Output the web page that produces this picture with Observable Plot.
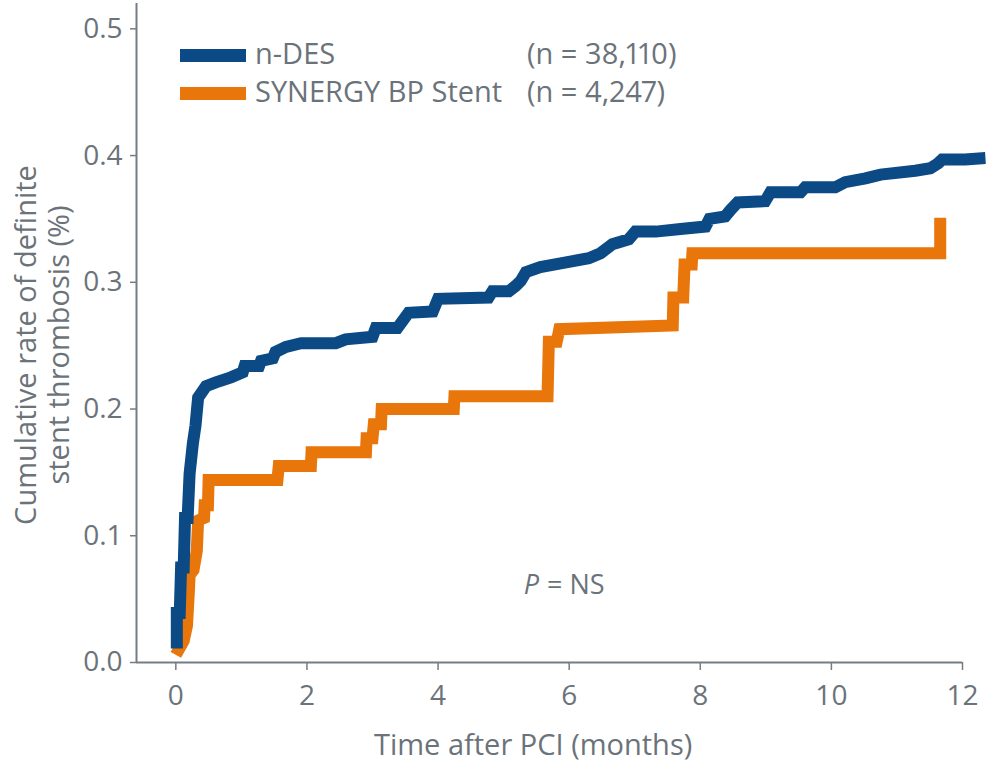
<!DOCTYPE html>
<html><head><meta charset="utf-8">
<script src="https://cdn.jsdelivr.net/npm/d3@7"></script>
<script src="https://cdn.jsdelivr.net/npm/@observablehq/plot@0.6"></script>
<style>
body{margin:0;background:#fff;}
#wrap{position:relative;width:1000px;height:765px;font-family:"Open Sans",sans-serif;color:#6b737a;font-variant-numeric:proportional-nums;font-feature-settings:"pnum" 1;}
#wrap svg{font-variant-numeric:proportional-nums;font-feature-settings:"pnum" 1;}
.sw{position:absolute;height:13px;width:66px;}
.lt{position:absolute;font-size:29px;line-height:29px;white-space:nowrap;}
</style></head><body><div id="wrap"></div>
<script>
// n-DES (months, cumulative %)
const ndesT = [0.015,0.015,0.06,0.08,0.12,0.14,0.18,0.21,0.26,0.30,0.34,0.46,0.61,0.84,1.02,1.05,1.27,1.30,1.48,1.52,1.68,1.91,2.44,2.59,3.00,3.05,3.38,3.55,3.92,4.00,4.77,4.83,5.08,5.18,5.26,5.34,5.56,5.87,6.30,6.48,6.66,6.91,7.01,7.32,7.70,8.08,8.14,8.38,8.46,8.57,8.99,9.07,9.53,9.60,10.06,10.21,10.52,10.75,11.28,11.51,11.63,11.69,12.04,12.35];
const ndesV = [0.011,0.039,0.039,0.075,0.075,0.114,0.114,0.149,0.173,0.187,0.209,0.218,0.221,0.225,0.229,0.234,0.234,0.238,0.240,0.245,0.249,0.252,0.252,0.255,0.257,0.264,0.264,0.276,0.277,0.287,0.288,0.293,0.293,0.297,0.301,0.308,0.312,0.315,0.319,0.323,0.330,0.334,0.340,0.340,0.342,0.344,0.350,0.352,0.357,0.363,0.364,0.371,0.371,0.375,0.375,0.379,0.382,0.385,0.388,0.390,0.394,0.397,0.397,0.398];
// SYNERGY BP Stent
const synT = [0,0.12,0.17,0.20,0.21,0.27,0.32,0.34,0.43,0.44,0.49,0.50,1.55,1.57,2.06,2.07,2.90,2.91,3.00,3.02,3.13,3.14,4.24,4.25,5.67,5.69,5.81,5.85,7.58,7.59,7.74,7.76,7.87,7.88,11.66,11.66];
const synV = [0.006,0.017,0.029,0.057,0.069,0.073,0.088,0.112,0.114,0.124,0.124,0.144,0.144,0.155,0.155,0.166,0.166,0.177,0.177,0.188,0.188,0.200,0.200,0.210,0.210,0.253,0.253,0.263,0.266,0.288,0.288,0.314,0.314,0.323,0.323,0.351];

const seriesNames = ["n-DES","SYNERGY BP Stent"];
const seriesN = ["(n = 38,110)","(n = 4,247)"];
const seriesColors = ["#0b4a85","#e8760a"];
const xTicks = [0,2,4,6,8,10,12];
const yTicks = [0,0.1,0.2,0.3,0.4,0.5];
const xDomain = [-0.6,12];
const yDomain = [0,0.52];
const xTitle = "Time after PCI (months)";
const yTitle = "Cumulative rate of definite\nstent thrombosis (%)";
const pLabel = ["P","= NS"];
const pPos = {t:5.6, v:0.061};
const xTitlePos = 5.45;

const textColor = "#6b737a";
const axisColor = "#767c83";

const ndes = ndesT.map((t,i)=>({t, v:ndesV[i]}));
const syn = synT.map((t,i)=>({t, v:synV[i]}));

const lineOpts = {x:"t", y:"v", strokeWidth:12, strokeLinejoin:"miter", strokeLinecap:"butt", strokeMiterlimit:4};

const plot = Plot.plot({
  width:1000, height:765,
  marginLeft:136, marginRight:38, marginTop:3, marginBottom:103,
  x:{domain:xDomain},
  y:{domain:yDomain},
  style:{fontFamily:"'Open Sans', sans-serif", fontSize:"28px", color:textColor, background:"transparent"},
  marks:[
    Plot.ruleX([xDomain[0]], {stroke:axisColor, strokeWidth:2}),
    Plot.ruleY([0], {stroke:axisColor, strokeWidth:2}),
    Plot.axisY({ticks:yTicks, tickFormat:d=>d.toFixed(1), tickSize:6, tickPadding:8, label:null, stroke:axisColor, fill:textColor, strokeWidth:1.5}),
    Plot.axisX({ticks:xTicks, tickFormat:d=>String(d), tickSize:8, tickPadding:15, label:null, stroke:axisColor, fill:textColor, strokeWidth:1.5}),
    Plot.line(syn, {...lineOpts, stroke:seriesColors[1]}),
    Plot.line(ndes, {...lineOpts, stroke:seriesColors[0]}),
    Plot.text([xTitle], {x:xTitlePos, frameAnchor:"bottom", dy:83, text:d=>d, fill:textColor, lineAnchor:"middle", fontSize:29}),
    Plot.text([yTitle], {frameAnchor:"left", textAnchor:"middle", rotate:-90, dx:-95, dy:12, text:d=>d, fill:textColor, lineHeight:1.15, fontSize:29}),
    Plot.text([pLabel[0]], {x:pPos.t, y:pPos.v, text:d=>d, textAnchor:"end", dx:-4, fontStyle:"italic", fill:textColor, fontSize:27}),
    Plot.text([pLabel[1]], {x:pPos.t, y:pPos.v, text:d=>d, textAnchor:"start", dx:4, fill:textColor, fontSize:27})
  ]
});
const wrap = document.getElementById("wrap");
wrap.appendChild(plot);
// legend overlay
const rowsY = [55, 93];
seriesNames.forEach((name,i)=>{
  const sw = document.createElement("div");
  sw.className = "sw";
  sw.style.left = "180px"; sw.style.top = (rowsY[i]-6.5)+"px"; sw.style.background = seriesColors[i];
  wrap.appendChild(sw);
  const t1 = document.createElement("div");
  t1.className = "lt"; t1.textContent = name;
  t1.style.left = "255px"; t1.style.top = (rowsY[i]-17)+"px";
  wrap.appendChild(t1);
  const t2 = document.createElement("div");
  t2.className = "lt"; t2.textContent = seriesN[i];
  t2.style.left = "527px"; t2.style.top = (rowsY[i]-17)+"px";
  wrap.appendChild(t2);
});
</script></body></html>
